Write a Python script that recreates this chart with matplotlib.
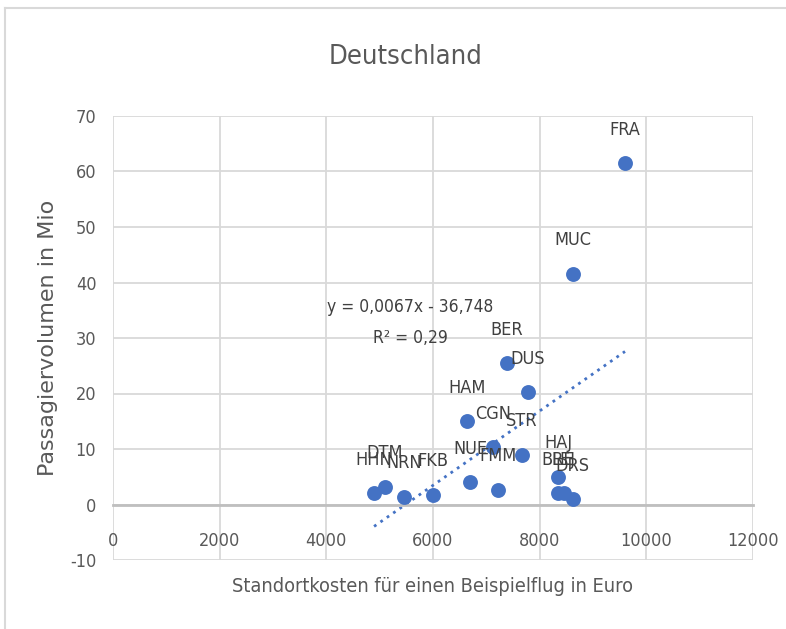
import numpy as np
import matplotlib.pyplot as plt
from matplotlib.lines import Line2D
from matplotlib.ticker import FuncFormatter

# airports, site costs (Euro) and passenger volume (Mio)
codes = ['FRA', 'MUC', 'BER', 'DUS', 'HAM', 'CGN', 'STR', 'NUE', 'FMM',
         'FKB', 'NRN', 'DTM', 'HHN', 'HAJ', 'BRE', 'LEJ', 'DRS']
kosten = [9600, 8625, 7390, 7780, 6640, 7125, 7670, 6695, 7220,
          6000, 5455, 5100, 4895, 8345, 8345, 8450, 8620]
passagiere = [61.5, 41.6, 25.5, 20.2, 15.0, 10.3, 9.0, 4.0, 2.7,
              1.8, 1.4, 3.2, 2.0, 5.0, 2.1, 2.1, 1.0]

# linear trend as shown by the spreadsheet
steigung = 0.0067
achse = -36.748

txt = '#595959'
grid = '#d9d9d9'
blue = '#4472C4'
fnt = dict(family='DejaVu Sans', stretch='condensed')

fig = plt.figure(figsize=(7.86, 6.29), dpi=100)
ax = fig.add_axes([113/786, 1-560/629, 640/786, 444/629])

ax.scatter(kosten, passagiere, s=115, color=blue, zorder=3, linewidths=0)
for c, x, y in zip(codes, kosten, passagiere):
    ax.annotate(c, (x, y), xytext=(0, 24), textcoords='offset points',
                ha='center', va='center', fontsize=13, color='#404040',
                zorder=4, **fnt)

xs = np.array([min(kosten), max(kosten)])
ax.plot(xs, steigung*xs + achse, ls=(0, (1, 1.8)), lw=2.0, color=blue, zorder=2)
ax.text(5570, 35.6, 'y = 0,0067x - 36,748', ha='center', va='center',
        fontsize=12.5, color='#404040', **fnt)
ax.text(5570, 30.0, 'R² = 0,29', ha='center', va='center',
        fontsize=12.5, color='#404040', **fnt)

ax.set_xlim(0, 12000)
ax.set_ylim(-10, 70)
ax.set_xticks(np.arange(0, 12001, 2000))
ax.set_yticks(np.arange(-10, 71, 10))
ax.yaxis.set_major_formatter(FuncFormatter(lambda v, p: '%d' % v))
ax.xaxis.set_major_formatter(FuncFormatter(lambda v, p: '%d' % v))
ax.grid(True, color=grid, lw=1.3, zorder=0)
ax.set_axisbelow(True)
for s in ['top', 'right', 'left']:
    ax.spines[s].set_visible(False)
ax.spines['bottom'].set_position(('data', 0))
ax.spines['bottom'].set_color('#bfbfbf')
ax.spines['bottom'].set_linewidth(2)
ax.tick_params(length=0, labelsize=13, labelcolor=txt)
ax.tick_params(axis='x', pad=20)
ax.tick_params(axis='y', pad=12)
for lab in ax.get_xticklabels() + ax.get_yticklabels():
    lab.set_family('DejaVu Sans')
    lab.set_stretch('condensed')

fig.text(406/786, 1-57/629, 'Deutschland', ha='center', va='center',
         fontsize=19.5, color=txt, **fnt)
fig.text(433/786, 1-586/629, 'Standortkosten für einen Beispielflug in Euro',
         ha='center', va='center', fontsize=14.3, color=txt, **fnt)
fig.text(48/786, 1-338/629, 'Passagiervolumen in Mio', rotation=90,
         ha='center', va='center', fontsize=16, color=txt)

# chart frame
fig.add_artist(Line2D([5/786, 5/786], [0, 1-8/629], color=grid, lw=1.5))
fig.add_artist(Line2D([5/786, 1], [1-8/629, 1-8/629], color=grid, lw=1.5))

fig.savefig('out.png', dpi=100)
